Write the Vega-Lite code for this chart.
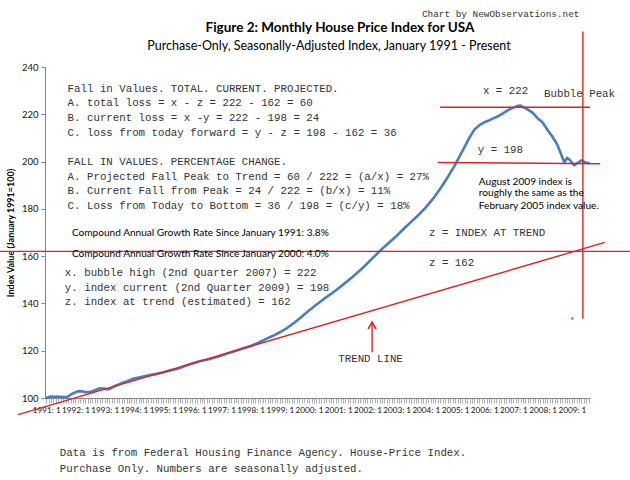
{
  "$schema": "https://vega.github.io/schema/vega-lite/v6.json",
  "autosize": "none",
  "width": 545,
  "height": 331,
  "padding": {"left": 45, "top": 67, "right": 40, "bottom": 82},
  "background": "white",
  "datasets": {
    "hpi": [
      {"date": "1991-01-01", "v": 100.0}, {"date": "1991-02-01", "v": 100.4}, {"date": "1991-03-01", "v": 100.6},
      {"date": "1991-04-01", "v": 100.5}, {"date": "1991-05-01", "v": 100.5}, {"date": "1991-06-01", "v": 100.6},
      {"date": "1991-07-01", "v": 100.4}, {"date": "1991-08-01", "v": 100.5}, {"date": "1991-09-01", "v": 100.3},
      {"date": "1991-10-01", "v": 100.6}, {"date": "1991-11-01", "v": 101.4}, {"date": "1991-12-01", "v": 101.9},
      {"date": "1992-01-01", "v": 102.4}, {"date": "1992-02-01", "v": 102.9}, {"date": "1992-03-01", "v": 102.8},
      {"date": "1992-04-01", "v": 102.8}, {"date": "1992-05-01", "v": 102.4}, {"date": "1992-06-01", "v": 102.5},
      {"date": "1992-07-01", "v": 102.6}, {"date": "1992-08-01", "v": 102.9}, {"date": "1992-09-01", "v": 103.3},
      {"date": "1992-10-01", "v": 103.7}, {"date": "1992-11-01", "v": 104.1}, {"date": "1992-12-01", "v": 104.0},
      {"date": "1993-01-01", "v": 104.0}, {"date": "1993-02-01", "v": 103.6}, {"date": "1993-03-01", "v": 103.8},
      {"date": "1993-04-01", "v": 104.4}, {"date": "1993-05-01", "v": 105.0}, {"date": "1993-06-01", "v": 105.4},
      {"date": "1993-07-01", "v": 105.8}, {"date": "1993-08-01", "v": 106.3}, {"date": "1993-09-01", "v": 106.7},
      {"date": "1993-10-01", "v": 107.0}, {"date": "1993-11-01", "v": 107.4}, {"date": "1993-12-01", "v": 107.9},
      {"date": "1994-01-01", "v": 108.2}, {"date": "1994-04-01", "v": 108.9}, {"date": "1994-07-01", "v": 109.6},
      {"date": "1994-10-01", "v": 110.1}, {"date": "1995-01-01", "v": 110.8}, {"date": "1995-04-01", "v": 111.6},
      {"date": "1995-07-01", "v": 112.4}, {"date": "1995-10-01", "v": 113.5}, {"date": "1996-01-01", "v": 114.6},
      {"date": "1996-04-01", "v": 115.5}, {"date": "1996-07-01", "v": 116.2}, {"date": "1996-10-01", "v": 117.0},
      {"date": "1997-01-01", "v": 118.0}, {"date": "1997-04-01", "v": 119.0}, {"date": "1997-07-01", "v": 120.0},
      {"date": "1997-10-01", "v": 121.0}, {"date": "1998-01-01", "v": 122.0}, {"date": "1998-04-01", "v": 123.3},
      {"date": "1998-07-01", "v": 124.8}, {"date": "1998-10-01", "v": 126.2}, {"date": "1999-01-01", "v": 127.8},
      {"date": "1999-04-01", "v": 129.6}, {"date": "1999-07-01", "v": 131.8}, {"date": "1999-10-01", "v": 134.4},
      {"date": "2000-01-01", "v": 137.0}, {"date": "2000-04-01", "v": 139.4}, {"date": "2000-07-01", "v": 141.8},
      {"date": "2000-10-01", "v": 144.0}, {"date": "2001-01-01", "v": 146.3}, {"date": "2001-04-01", "v": 148.8},
      {"date": "2001-07-01", "v": 151.3}, {"date": "2001-10-01", "v": 154.0}, {"date": "2002-01-01", "v": 157.0},
      {"date": "2002-04-01", "v": 160.0}, {"date": "2002-07-01", "v": 163.0}, {"date": "2002-10-01", "v": 165.8},
      {"date": "2003-01-01", "v": 168.6}, {"date": "2003-04-01", "v": 171.6}, {"date": "2003-07-01", "v": 174.5},
      {"date": "2003-10-01", "v": 177.4}, {"date": "2004-01-01", "v": 180.6}, {"date": "2004-04-01", "v": 184.3},
      {"date": "2004-07-01", "v": 188.6}, {"date": "2004-10-01", "v": 193.4}, {"date": "2005-01-01", "v": 198.6},
      {"date": "2005-03-01", "v": 202.4}, {"date": "2005-05-01", "v": 206.2}, {"date": "2005-07-01", "v": 210.2},
      {"date": "2005-09-01", "v": 213.6}, {"date": "2005-11-01", "v": 215.4}, {"date": "2006-01-01", "v": 216.6},
      {"date": "2006-03-01", "v": 217.4}, {"date": "2006-05-01", "v": 218.4}, {"date": "2006-07-01", "v": 219.3},
      {"date": "2006-09-01", "v": 220.6}, {"date": "2006-11-01", "v": 221.9}, {"date": "2007-01-01", "v": 222.8},
      {"date": "2007-03-01", "v": 223.6}, {"date": "2007-04-01", "v": 223.7}, {"date": "2007-05-01", "v": 223.0},
      {"date": "2007-07-01", "v": 222.0}, {"date": "2007-09-01", "v": 220.6}, {"date": "2007-11-01", "v": 218.3},
      {"date": "2008-01-01", "v": 216.5}, {"date": "2008-03-01", "v": 213.5}, {"date": "2008-05-01", "v": 210.6},
      {"date": "2008-07-01", "v": 207.3}, {"date": "2008-08-01", "v": 204.7}, {"date": "2008-09-01", "v": 202.0},
      {"date": "2008-10-01", "v": 199.6}, {"date": "2008-11-01", "v": 201.6}, {"date": "2008-12-01", "v": 200.9},
      {"date": "2009-01-01", "v": 199.6}, {"date": "2009-02-01", "v": 198.4}, {"date": "2009-03-01", "v": 199.2},
      {"date": "2009-04-01", "v": 199.8}, {"date": "2009-05-01", "v": 200.5}, {"date": "2009-06-01", "v": 200.0},
      {"date": "2009-07-01", "v": 199.5}, {"date": "2009-08-01", "v": 199.4}
    ],
    "segments": [
      {"name": "trend", "d1": "1990-01-13", "v1": 93.0, "d2": "2010-02-18", "v2": 165.8},
      {"name": "z", "d1": "1989-06-01", "v1": 162.0, "d2": "2010-12-28", "v2": 162.0},
      {"name": "x", "d1": "2004-06-25", "v1": 223.0, "d2": "2009-08-15", "v2": 223.0},
      {"name": "y", "d1": "2004-06-01", "v1": 199.6, "d2": "2009-12-19", "v2": 199.1},
      {"name": "vertical", "d1": "2009-05-19", "v1": 255.0, "d2": "2009-05-19", "v2": 133.5},
      {"name": "arrow", "d1": "2002-02-28", "v1": 132.1, "d2": "2002-02-28", "v2": 119.4}
    ],
    "arrowhead": [{"d": "2002-02-28", "v": 132.1}],
    "dot": [{"d": "2009-01-07", "v": 133.6}],
    "heading": [{"d": "2001-01-22", "v": 256.3, "t": "Figure 2: Monthly House Price Index for USA"}],
    "subheading": [{"d": "2000-09-07", "v": 248.7, "t": "Purchase-Only, Seasonally-Adjusted Index, January 1991 - Present"}],
    "mono": [
      {"d": "1991-09-25", "v": 230.5, "t": "Fall in Values. TOTAL. CURRENT. PROJECTED."},
      {"d": "1991-09-25", "v": 224.6, "t": "A. total loss = x - z = 222 - 162 = 60"},
      {"d": "1991-09-25", "v": 218.4, "t": "B. current loss = x -y = 222 - 198 = 24"},
      {"d": "1991-09-25", "v": 212.2, "t": "C. loss from today forward = y - z = 198 - 162 = 36"},
      {"d": "1991-09-25", "v": 199.9, "t": "FALL IN VALUES. PERCENTAGE CHANGE."},
      {"d": "1991-09-25", "v": 193.6, "t": "A. Projected Fall Peak to Trend = 60 / 222 = (a/x) = 27%"},
      {"d": "1991-09-25", "v": 187.5, "t": "B. Current Fall from Peak = 24 / 222 = (b/x) = 11%"},
      {"d": "1991-09-25", "v": 181.1, "t": "C. Loss from Today to Bottom = 36 / 198 = (c/y) = 18%"},
      {"d": "1991-08-21", "v": 152.7, "t": "x. bubble high (2nd Quarter 2007) = 222"},
      {"d": "1991-08-21", "v": 146.7, "t": "y. index current (2nd Quarter 2009) = 198"},
      {"d": "1991-08-21", "v": 140.7, "t": "z. index at trend (estimated) = 162"},
      {"d": "2005-12-16", "v": 229.8, "t": "x = 222"},
      {"d": "2008-01-19", "v": 228.7, "t": "Bubble Peak"},
      {"d": "2005-10-13", "v": 205.1, "t": "y = 198"},
      {"d": "2004-02-10", "v": 169.6, "t": "z = INDEX AT TREND"},
      {"d": "2004-02-10", "v": 156.9, "t": "z = 162"},
      {"d": "2001-01-01", "v": 116.5, "t": "TREND LINE"},
      {"d": "1991-06-19", "v": 76.9, "t": "Data is from Federal Housing Finance Agency. House-Price Index."},
      {"d": "1991-06-19", "v": 69.8, "t": "Purchase Only. Numbers are seasonally adjusted."}
    ],
    "credit": [{"d": "2003-11-13", "v": 262.6, "t": "Chart by NewObservations.net"}],
    "sans": [
      {"d": "1991-11-18", "v": 169.9, "t": "Compound Annual Growth Rate Since January 1991:  3.8%"},
      {"d": "1991-11-18", "v": 160.7, "t": "Compound Annual Growth Rate Since January 2000:  4.0%"},
      {"d": "2005-10-25", "v": 191.5, "t": "August 2009 index is"},
      {"d": "2005-10-25", "v": 186.5, "t": "roughly the same as the"},
      {"d": "2005-10-25", "v": 181.1, "t": "February 2005  index value."}
    ]
  },
  "layer": [
    {
      "data": {"name": "hpi"},
      "mark": {"type": "line", "color": "#4a7ebb", "strokeWidth": 2.6, "strokeJoin": "round", "strokeCap": "round"},
      "encoding": {
        "x": {
          "field": "date", "type": "temporal",
          "scale": {"domain": ["1990-12-16", "2009-08-16"], "nice": false},
          "axis": {
            "title": null,
            "grid": false,
            "tickCount": {"interval": "month", "step": 1},
            "labelExpr": "month(datum.value) == 0 ? timeFormat(datum.value, '%Y: %-m') : ''",
            "labelOverlap": false,
            "labelFlush": false,
            "labelBound": false,
            "labelFont": "Lato",
            "labelFontSize": 8.2,
            "labelColor": "#111111",
            "labelPadding": 3,
            "tickSize": 5,
            "tickColor": "#9a9a9a",
            "tickWidth": 0.8,
            "domainColor": "#868686"
          }
        },
        "y": {
          "field": "v", "type": "quantitative",
          "scale": {"domain": [100, 240], "nice": false, "zero": false},
          "axis": {
            "title": "Index Value (January 1991=100)",
            "titleFont": "Lato",
            "titleFontSize": 9,
            "titleFontWeight": "bold",
            "titleColor": "#000000",
            "titlePadding": 6,
            "values": [100, 120, 140, 160, 180, 200, 220, 240],
            "grid": false,
            "labelFont": "Lato",
            "labelFontSize": 9.5,
            "labelColor": "#111111",
            "labelPadding": 3,
            "tickSize": 4,
            "tickColor": "#868686",
            "domainColor": "#868686"
          }
        }
      }
    },
    {
      "data": {"name": "segments"},
      "mark": {"type": "rule", "color": "#dd2222", "strokeWidth": 1.4},
      "encoding": {
        "x": {"field": "d1", "type": "temporal"},
        "x2": {"field": "d2"},
        "y": {"field": "v1", "type": "quantitative"},
        "y2": {"field": "v2"}
      }
    },
    {
      "data": {"name": "arrowhead"},
      "mark": {"type": "point", "shape": "M -0.57 1 L 0 0 L 0.57 1", "filled": false, "size": 196, "stroke": "#dd2222", "strokeWidth": 1.6, "opacity": 1},
      "encoding": {
        "x": {"field": "d", "type": "temporal"},
        "y": {"field": "v", "type": "quantitative"}
      }
    },
    {
      "data": {"name": "dot"},
      "mark": {"type": "point", "shape": "circle", "filled": true, "size": 5, "color": "#dd2222", "opacity": 1},
      "encoding": {
        "x": {"field": "d", "type": "temporal"},
        "y": {"field": "v", "type": "quantitative"}
      }
    },
    {
      "data": {"name": "heading"},
      "mark": {"type": "text", "font": "Lato", "fontSize": 13.5, "fontWeight": "bold", "align": "center", "baseline": "middle", "color": "#000000"},
      "encoding": {
        "x": {"field": "d", "type": "temporal"},
        "y": {"field": "v", "type": "quantitative"},
        "text": {"field": "t"}
      }
    },
    {
      "data": {"name": "subheading"},
      "mark": {"type": "text", "font": "Lato", "fontSize": 12.5, "align": "center", "baseline": "middle", "color": "#000000"},
      "encoding": {
        "x": {"field": "d", "type": "temporal"},
        "y": {"field": "v", "type": "quantitative"},
        "text": {"field": "t"}
      }
    },
    {
      "data": {"name": "mono"},
      "mark": {"type": "text", "font": "Liberation Mono", "fontSize": 10.75, "align": "left", "baseline": "middle", "color": "#333333"},
      "encoding": {
        "x": {"field": "d", "type": "temporal"},
        "y": {"field": "v", "type": "quantitative"},
        "text": {"field": "t"}
      }
    },
    {
      "data": {"name": "credit"},
      "mark": {"type": "text", "font": "Liberation Mono", "fontSize": 9.4, "align": "left", "baseline": "middle", "color": "#333333"},
      "encoding": {
        "x": {"field": "d", "type": "temporal"},
        "y": {"field": "v", "type": "quantitative"},
        "text": {"field": "t"}
      }
    },
    {
      "data": {"name": "sans"},
      "mark": {"type": "text", "font": "Lato", "fontSize": 10.1, "align": "left", "baseline": "middle", "color": "#000000"},
      "encoding": {
        "x": {"field": "d", "type": "temporal"},
        "y": {"field": "v", "type": "quantitative"},
        "text": {"field": "t"}
      }
    }
  ],
  "config": {
    "view": {"stroke": null},
    "axis": {"domainWidth": 1}
  }
}
